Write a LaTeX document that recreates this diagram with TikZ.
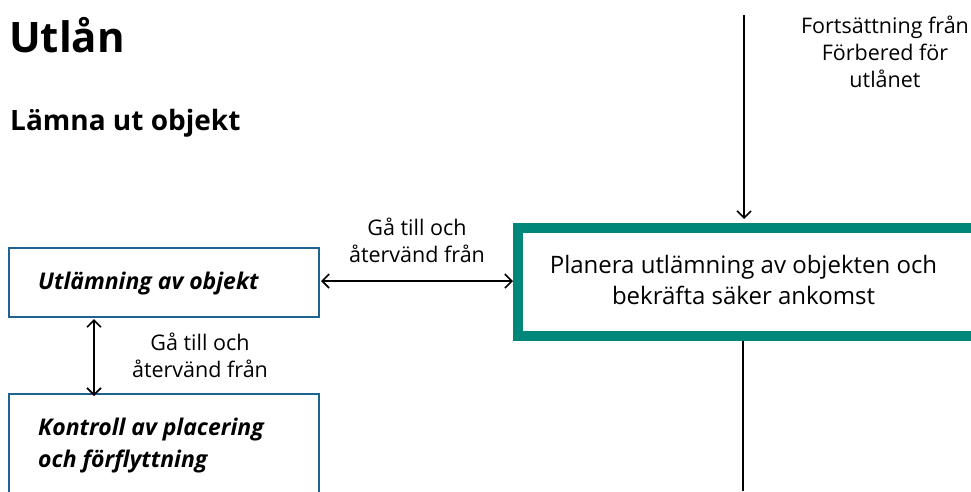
\documentclass[tikz,border=0pt]{standalone}
\usepackage{fontspec}
\setmainfont{Open Sans}
\usetikzlibrary{arrows.meta}
\definecolor{boxblue}{HTML}{1F6490}
\definecolor{teal}{HTML}{00877A}
\tikzset{barb/.tip={Straight Barb[length=7pt,width=14pt,line width=1.6pt]}}
\begin{document}
\begin{tikzpicture}[x=1pt,y=-1pt,
  conn/.style={line width=1.8pt,draw=black},
  lbl/.style={font=\fontsize{21.5}{27}\selectfont,align=center,inner sep=0pt},
  sidebox/.style={draw=boxblue,line width=2pt,fill=white,inner sep=0pt},
  boxtext/.style={font=\fontsize{23}{32}\selectfont\bfseries\itshape,align=left,inner sep=0pt,anchor=base west}]
\useasboundingbox (0,0) rectangle (971,491);
% headings
\node[anchor=base west,inner sep=0pt,font=\fontsize{42}{48}\selectfont\bfseries] (title) at (9,52) {Utlån};
\node[anchor=base west,inner sep=0pt,font=\fontsize{28}{32}\selectfont\bfseries] (sub) at (10,130) {Lämna ut objekt};
% left boxes
\path[sidebox] (9,248) rectangle (319,317);
\node[boxtext] (b1t) at (38,289) {Utlämning av objekt};
\path[sidebox] (9,394) rectangle (319,500);
\node[boxtext] (b2t) at (38,467) {Kontroll av placering\\och förflyttning};
\coordinate (b1bot) at (94,319);
\coordinate (b2top) at (94,396);
\coordinate (b1right) at (321,281);
% main box
\path[draw=teal,line width=10pt,fill=white] (518,228) rectangle (976,336);
\node[font=\fontsize{24}{31}\selectfont,align=center,inner sep=0pt] (main) at (743.5,280) {Planera utlämning av objekten och\\bekräfta säker ankomst};
\coordinate (mainleft) at (513,281);
\coordinate (maintop) at (744,219);
\coordinate (mainbot) at (743,341);
\coordinate (instart) at (744,15);
\coordinate (outend) at (743,491);
% connectors
\draw[conn,barb-barb] (b1right) -- (mainleft);
\draw[conn,barb-barb] (b1bot) -- (b2top);
\draw[conn,-barb] (instart) -- (maintop);
\draw[conn] (mainbot) -- (outend);
% labels
\node[lbl] (l1) at (417,240) {Gå till och\\återvänd från};
\node[lbl] (l2) at (200,355) {Gå till och\\återvänd från};
\node[lbl,anchor=base] (l3) at (885,87) {Fortsättning från\\Förbered för\\utlånet};
\end{tikzpicture}
\end{document}
